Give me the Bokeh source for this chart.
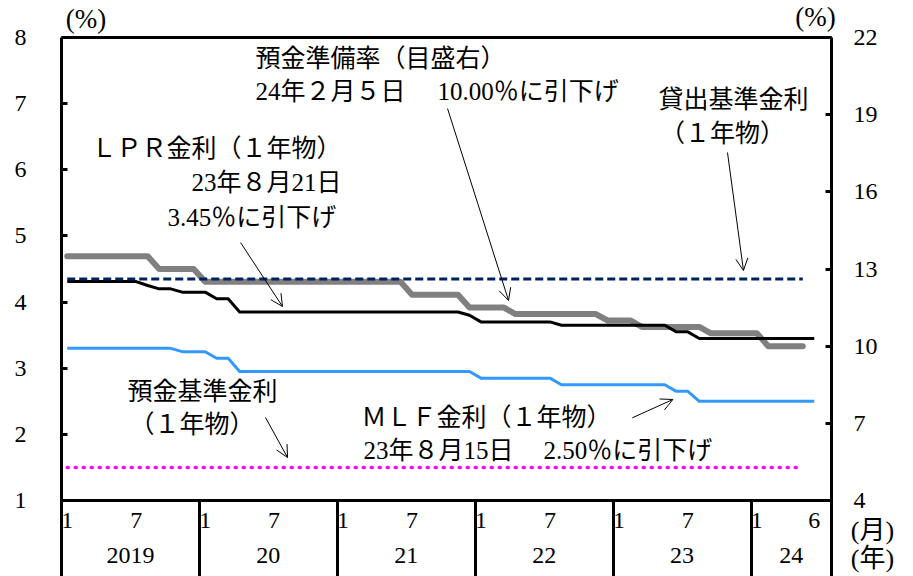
import pandas as pd
from bokeh.plotting import figure
from bokeh.models import Range1d, LinearAxis, FixedTicker, Label, Arrow, OpenHead
from bokeh.embed import file_html
from bokeh.resources import INLINE

# ---------------- data (monthly, Jan 2019 - Jun 2024) ----------------
lpr_1y = [
    4.31, 4.31, 4.31, 4.31, 4.31, 4.31, 4.31, 4.25, 4.20, 4.20, 4.15, 4.15,  # 2019
    4.15, 4.05, 4.05, 3.85, 3.85, 3.85, 3.85, 3.85, 3.85, 3.85, 3.85, 3.85,  # 2020
    3.85, 3.85, 3.85, 3.85, 3.85, 3.85, 3.85, 3.85, 3.85, 3.85, 3.85, 3.80,  # 2021
    3.70, 3.70, 3.70, 3.70, 3.70, 3.70, 3.70, 3.65, 3.65, 3.65, 3.65, 3.65,  # 2022
    3.65, 3.65, 3.65, 3.65, 3.65, 3.55, 3.55, 3.45, 3.45, 3.45, 3.45, 3.45,  # 2023
    3.45, 3.45, 3.45, 3.45, 3.45, 3.45,                                      # 2024
]
mlf_1y = [
    3.30, 3.30, 3.30, 3.30, 3.30, 3.30, 3.30, 3.30, 3.30, 3.30, 3.25, 3.25,  # 2019
    3.25, 3.15, 3.15, 2.95, 2.95, 2.95, 2.95, 2.95, 2.95, 2.95, 2.95, 2.95,  # 2020
    2.95, 2.95, 2.95, 2.95, 2.95, 2.95, 2.95, 2.95, 2.95, 2.95, 2.95, 2.95,  # 2021
    2.85, 2.85, 2.85, 2.85, 2.85, 2.85, 2.85, 2.75, 2.75, 2.75, 2.75, 2.75,  # 2022
    2.75, 2.75, 2.75, 2.75, 2.75, 2.65, 2.65, 2.50, 2.50, 2.50, 2.50, 2.50,  # 2023
    2.50, 2.50, 2.50, 2.50, 2.50, 2.50,                                      # 2024
]
# reserve requirement ratio (right scale), Jan 2019 - May 2024
rrr = [
    13.5, 13.5, 13.5, 13.5, 13.5, 13.5, 13.5, 13.5, 13.0, 13.0, 13.0, 13.0,  # 2019
    12.5, 12.5, 12.5, 12.5, 12.5, 12.5, 12.5, 12.5, 12.5, 12.5, 12.5, 12.5,  # 2020
    12.5, 12.5, 12.5, 12.5, 12.5, 12.5, 12.0, 12.0, 12.0, 12.0, 12.0, 11.5,  # 2021
    11.5, 11.5, 11.5, 11.25, 11.25, 11.25, 11.25, 11.25, 11.25, 11.25, 11.25, 11.0,  # 2022
    11.0, 11.0, 10.75, 10.75, 10.75, 10.75, 10.75, 10.75, 10.5, 10.5, 10.5, 10.5,  # 2023
    10.5, 10.0, 10.0, 10.0, 10.0,                                            # 2024
]
lending_benchmark = [4.35] * 65   # Jan 2019 - May 2024
deposit_benchmark = [1.50] * 65   # Jan 2019 - May 2024

left_ticks = [1, 2, 3, 4, 5, 6, 7, 8]
right_ticks = [4, 7, 10, 13, 16, 19, 22]
month_tick_year = [2019, 2019, 2020, 2020, 2021, 2021, 2022, 2022, 2023, 2023, 2024, 2024]
month_tick_month = [1, 7, 1, 7, 1, 7, 1, 7, 1, 7, 1, 6]
year_list = [2019, 2020, 2021, 2022, 2023, 2024]
year_labels = ["2019", "20", "21", "22", "23", "24"]

# ---------------- positions on a month axis ----------------
months = pd.period_range("2019-01", "2024-06", freq="M")
x_month = [(m.year - 2019) * 12 + m.month - 0.5 for m in months]
axis_end = (2024 - 2019) * 12 + 7          # through end of Jul 2024

# ---------------- layout (picture pixels) ----------------
W, H, M = 897, 576, 0
PX0, PX1 = 61, 831      # plot box left / right
PY8, PY1 = 37, 500      # y=8 / y=1 on the left scale
XPER = (PX1 - PX0) / axis_end
YPER = (PY1 - PY8) / 7.0
x_lo = (M - PX0) / XPER
x_hi = (M + W - PX0) / XPER
y_hi = 8 + (PY8 - M) / YPER
y_lo = 1 - (M + H - PY1) / YPER
RS = 18 / 7.0
r_lo, r_hi = 4 + (y_lo - 1) * RS, 4 + (y_hi - 1) * RS


def py(page_y):
    return 8 - (page_y - PY8) / YPER


JP = "Liberation Serif, Noto Sans CJK JP"
NUM = "Liberation Serif"

p = figure(width=W, height=H, output_backend="svg", toolbar_location=None,
           x_range=Range1d(x_lo, x_hi), y_range=Range1d(y_lo, y_hi),
           x_axis_type=None, y_axis_type=None,
           min_border=0, min_border_left=0, min_border_right=0,
           min_border_top=0, min_border_bottom=0)
p.extra_y_ranges = {"rrr": Range1d(r_lo, r_hi)}
p.outline_line_color = None
p.background_fill_color = "white"
p.border_fill_color = "white"


def base_axis(ax):
    ax.axis_line_width = 3
    ax.axis_line_color = "black"
    ax.major_tick_line_width = 3
    ax.major_tick_line_color = "black"
    ax.minor_tick_line_color = None
    ax.major_label_text_font = NUM
    ax.major_label_text_font_size = "24px"
    ax.major_label_text_color = "black"


yl = LinearAxis(ticker=FixedTicker(ticks=left_ticks), fixed_location=0, bounds=(y_lo, 8))
base_axis(yl)
yl.major_tick_in = 6
yl.major_tick_out = 0
yl.major_label_standoff = 35
p.add_layout(yl, "left")

yr = LinearAxis(y_range_name="rrr", ticker=FixedTicker(ticks=right_ticks),
                fixed_location=axis_end, bounds=(r_lo, 22))
base_axis(yr)
yr.major_tick_in = 6
yr.major_tick_out = 0
yr.major_label_standoff = 22
p.add_layout(yr, "right")

top = LinearAxis(ticker=FixedTicker(ticks=[]), fixed_location=8, bounds=(0, axis_end))
base_axis(top)
p.add_layout(top, "above")

m_pos = [(y - 2019) * 12 + m - 0.5 for y, m in zip(month_tick_year, month_tick_month)]
xm = LinearAxis(ticker=FixedTicker(ticks=m_pos), fixed_location=1, bounds=(0, axis_end))
base_axis(xm)
xm.major_tick_line_color = None
xm.major_tick_in = 0
xm.major_tick_out = 0
xm.major_label_standoff = 12
xm.major_label_overrides = {pos: str(m) for pos, m in zip(m_pos, month_tick_month)}
p.add_layout(xm, "below")

bounds = [(y - 2019) * 12 for y in year_list] + [axis_end]
sep = LinearAxis(ticker=FixedTicker(ticks=bounds), fixed_location=y_lo)
base_axis(sep)
sep.axis_line_color = None
sep.major_tick_in = int(M + H - PY1)
sep.major_tick_out = 0
sep.major_label_overrides = {b: "" for b in bounds}
p.add_layout(sep, "below")

y_pos = [((y - 2019) * 12 + min((y - 2019) * 12 + 12, axis_end)) / 2 for y in year_list]
xy = LinearAxis(ticker=FixedTicker(ticks=y_pos), fixed_location=py(542))
base_axis(xy)
xy.axis_line_color = None
xy.major_tick_line_color = None
xy.major_tick_in = 0
xy.major_tick_out = 0
xy.major_label_standoff = 5
xy.major_label_overrides = {pos: lab for pos, lab in zip(y_pos, year_labels)}
p.add_layout(xy, "below")

# ---------------- lines ----------------
p.line(x_month[:len(rrr)], rrr, y_range_name="rrr", line_color="#808080", line_width=6,
       line_cap="round", line_join="round")
p.line(x_month, lpr_1y, line_color="black", line_width=3, line_join="round")
p.line(x_month, mlf_1y, line_color="#3399FF", line_width=3, line_join="round")
p.line(x_month[:len(lending_benchmark)], lending_benchmark, line_color="#002060",
       line_width=3, line_dash="8 4")
p.line(x_month[:len(deposit_benchmark)], deposit_benchmark, line_color="#FF00FF",
       line_width=3.5, line_dash="1 7", line_cap="round")

# ---------------- annotations ----------------
def txt(x, y, s, align="left", font=JP, size="25px"):
    p.add_layout(Label(x=x, y=y, text=s, text_align=align, text_baseline="middle",
                       text_font=font, text_font_size=size, text_color="black"))


txt(16.88, 7.682, "預金準備率（目盛右）")
txt(16.88, 7.184, "24年２月５日")
txt(32.72, 7.184, "10.00％に引下げ")
txt(51.95, 7.063, "貸出基準金利")
txt(57.52, 6.549, "（１年物）", align="center")
txt(2.61, 6.322, "ＬＰＲ金利（１年物）")
txt(11.31, 5.808, "23年８月21日")
txt(9.22, 5.279, "3.45％に引下げ")
txt(5.74, 2.648, "預金基準金利")
txt(11.36, 2.149, "（１年物）", align="center")
txt(26.10, 2.255, "ＭＬＦ金利（１年物）")
txt(26.28, 1.756, "23年８月15日")
txt(41.94, 1.756, "2.50％に引下げ")

txt(2.13, py(18), "(%)", align="center", font=NUM, size="27px")
txt(65.61, py(16), "(%)", align="center", font=NUM, size="27px")
txt(70.57, py(530), "(月)", align="center", size="26px")
txt(70.57, py(558), "(年)", align="center", size="26px")

arrows = [
    (33.59, 6.926, 38.90, 4.024),
    (57.95, 6.261, 59.34, 4.477),
    (15.58, 4.900, 19.23, 3.933),
    (17.75, 2.255, 19.67, 1.650),
    (49.67, 2.250, 53.20, 2.527),
]
for x0, y0, x1, y1 in arrows:
    p.add_layout(Arrow(x_start=x0, y_start=y0, x_end=x1, y_end=y1, line_width=1,
                       line_color="black",
                       end=OpenHead(size=12, line_width=1, line_color="black")))

open("out.html", "w").write(file_html(p, INLINE))
